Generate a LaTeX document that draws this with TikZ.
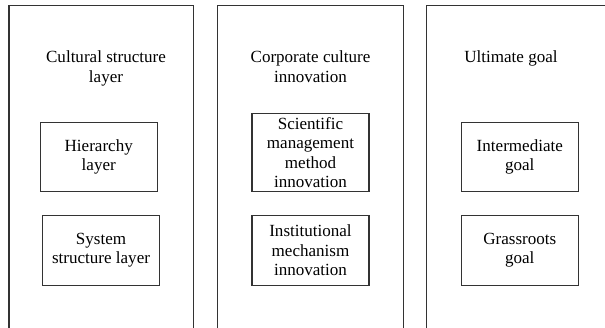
\documentclass[tikz,border=0pt]{standalone}
\usepackage{fontspec}
\setmainfont{Liberation Serif}
\tikzset{
	column/.style={draw=black!80, line width=0.6pt},
	layerbox/.style={draw=black!80, line width=0.6pt, minimum width=2.34cm, minimum height=1.39cm, align=center, inner sep=1pt},
	coltitle/.style={align=center, anchor=north, inner sep=0pt}
}
\begin{document}
\begin{tikzpicture}[font=\fontsize{9.7pt}{11.1pt}\selectfont]
	\useasboundingbox (0,0) rectangle (12.1,6.56);
	\clip (0,0) rectangle (12.1,6.56);
	% the three columns run off the lower (and right) edge
	\draw[column] (0.18,-0.5) rectangle (3.87,6.45);
	\draw[column] (4.35,-0.5) rectangle (8.07,6.45);
	\draw[column] (8.53,-0.5) rectangle (12.3,6.45);

	\node[coltitle] (structure) at (2.12,5.55) {Cultural structure\\layer};
	\node[coltitle] (corporate) at (6.21,5.55) {Corporate culture\\innovation};
	\node[coltitle] (ultimate) at (10.22,5.55) {Ultimate goal};

	\node[layerbox] (hierarchy) at (1.975,3.42) {Hierarchy\\layer};
	\node[layerbox] (system) at (2.02,1.553) {System\\structure layer};

	\node[layerbox, minimum height=1.57cm, inner sep=0pt] (scientific) at (6.21,3.51) {Scientific\\management\\method\\innovation};
	\node[layerbox] (institutional) at (6.21,1.553) {Institutional\\mechanism\\innovation};

	\node[layerbox] (intermediate) at (10.396,3.42) {Intermediate\\goal};
	\node[layerbox] (grassroots) at (10.396,1.553) {Grassroots\\goal};
\end{tikzpicture}
\end{document}
